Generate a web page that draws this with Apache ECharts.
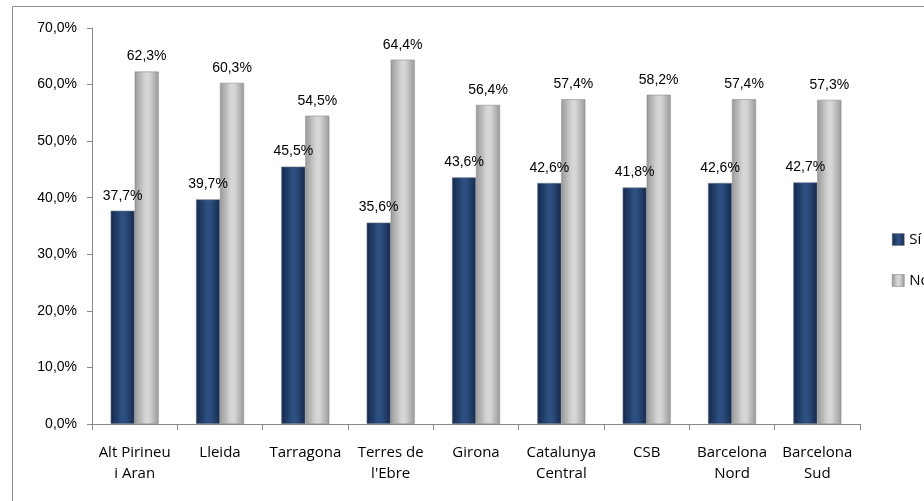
<!DOCTYPE html>
<html>
<head>
<meta charset="utf-8">
<script src="https://cdn.jsdelivr.net/npm/echarts@6/dist/echarts.min.js"></script>
<style>
  html, body { margin: 0; padding: 0; background: #fff; }
  #chart { width: 924px; height: 501px; }
</style>
</head>
<body>
<div id="chart"></div>
<script>
const categories = ['Alt Pirineu\ni Aran', 'Lleida', 'Tarragona', 'Terres de\nl\'Ebre', 'Girona',
    'Catalunya\nCentral', 'CSB', 'Barcelona\nNord', 'Barcelona\nSud'];
const si = [37.7, 39.7, 45.5, 35.6, 43.6, 42.6, 41.8, 42.6, 42.7];
const no = [62.3, 60.3, 54.5, 64.4, 56.4, 57.4, 58.2, 57.4, 57.3];
const yTicks = [0, 10, 20, 30, 40, 50, 60, 70];

const pct = v => v.toFixed(1).replace('.', ',') + '%';

// horizontal gradient to mimic the rounded Excel bars
const barFill = (edge, mid) => new echarts.graphic.LinearGradient(0, 0, 1, 0, [
    { offset: 0, color: edge },
    { offset: 0.45, color: mid },
    { offset: 0.6, color: mid },
    { offset: 1, color: edge }
]);

const chart = echarts.init(document.getElementById('chart'));

const labelStyle = {
    show: true,
    position: 'top',
    distance: 8,
    fontFamily: 'Liberation Sans, Arial',
    fontSize: 14,
    color: '#000',
    formatter: p => pct(p.value)
};

const option = {
    animation: false,
    graphic: [{
        type: 'rect',
        shape: { x: 12.5, y: 6.5, width: 1000, height: 600 },
        style: { fill: 'none', stroke: '#8c8c8c', lineWidth: 1 },
        silent: true
    }],
    legend: {
        orient: 'vertical',
        left: 887,
        top: 227,
        itemWidth: 12,
        itemHeight: 12,
        itemGap: 26,
        itemStyle: { borderColor: '#777', borderWidth: 0.5 },
        icon: 'rect',
        textStyle: { fontFamily: 'Open Sans', fontSize: 15, color: '#000' },
        data: ['Sí', 'No']
    },
    grid: { left: 92, right: 64, top: 28, bottom: 77 },
    xAxis: {
        type: 'category',
        data: categories,
        axisLine: { lineStyle: { color: '#888' } },
        axisTick: { show: true, interval: 0, length: 6, lineStyle: { color: '#888' } },
        axisLabel: {
            interval: 0,
            fontFamily: 'Open Sans',
            fontSize: 15,
            color: '#000',
            margin: 18,
            lineHeight: 21
        }
    },
    yAxis: {
        type: 'value',
        min: yTicks[0],
        max: yTicks[yTicks.length - 1],
        interval: 10,
        axisLine: { show: true, lineStyle: { color: '#888' } },
        axisTick: { show: true, length: 5, lineStyle: { color: '#888' } },
        splitLine: { show: false },
        axisLabel: {
            fontFamily: 'Liberation Sans, Arial',
            fontSize: 14,
            color: '#000',
            margin: 15,
            formatter: v => pct(v)
        }
    },
    series: [
        {
            name: 'Sí',
            type: 'bar',
            data: si,
            barWidth: 24,
            barGap: '0%',
            itemStyle: {
                color: barFill('#14294a', '#2d4f80'),
                borderColor: '#6b7a8e',
                borderWidth: 0.6
            },
            label: labelStyle
        },
        {
            name: 'No',
            type: 'bar',
            data: no,
            barWidth: 24,
            itemStyle: {
                color: barFill('#9a9a9a', '#d6d6d6'),
                borderColor: '#8a8a8a',
                borderWidth: 0.6
            },
            label: labelStyle
        }
    ]
};

chart.setOption(option);
</script>
</body>
</html>
